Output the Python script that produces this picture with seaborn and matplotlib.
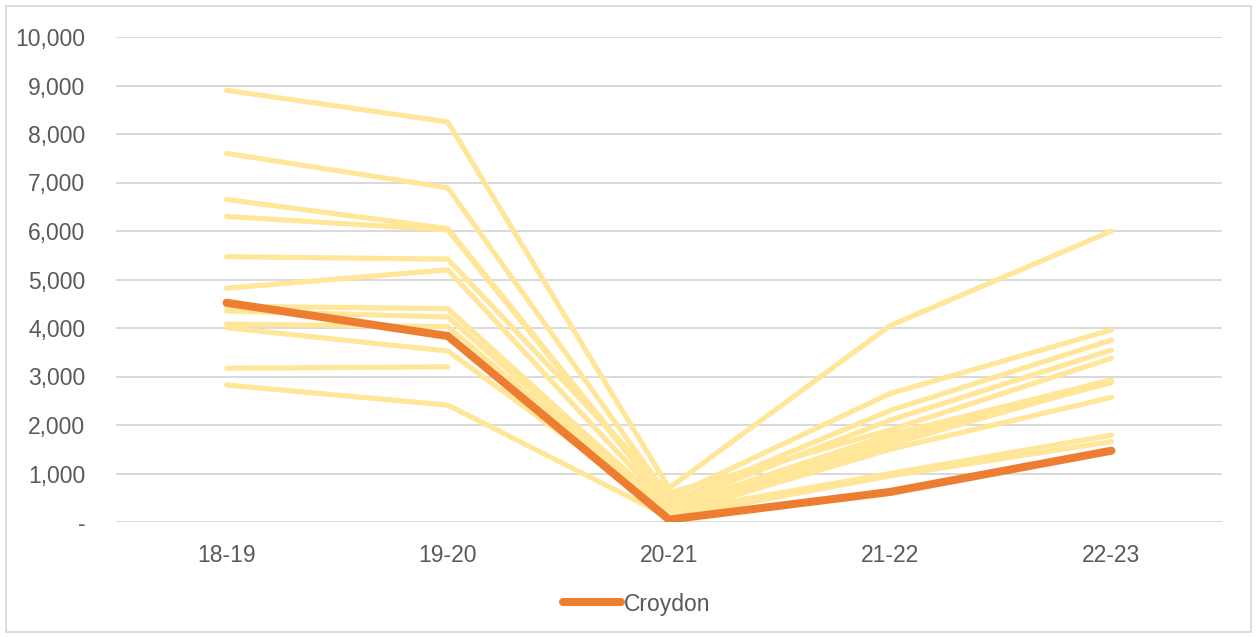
import numpy as np
import pandas as pd
import matplotlib
matplotlib.use("Agg")
import matplotlib.pyplot as plt
from matplotlib.lines import Line2D
from matplotlib.patches import Rectangle
from matplotlib.ticker import FuncFormatter
import seaborn as sns

# Financial years on the x axis
years = ["18-19", "19-20", "20-21", "21-22", "22-23"]

# Comparator boroughs (unnamed, drawn as background context)
comparators = [
    [8900, 8250, 700, 4050, 6000],
    [7600, 6890, 500, 2650, 3960],
    [6650, 6050, 400, 2300, 3750],
    [6300, 6020, 350, 2100, 3545],
    [5470, 5420, 600, 1900, 3375],
    [4820, 5200, 300, 1800, 2930],
    [4450, 4400, 250, 1700, 2870],
    [4350, 4230, 200, 1600, 2900],
    [4080, 4030, 150, 1500, 2570],
    [4005, 3525, 200, 1000, 1790],
    [3170, 3200, np.nan, np.nan, np.nan],
    [2825, 2410, 100, 950, 1655],
]

# Highlighted borough
croydon_label = "Croydon"
croydon = [4520, 3835, 50, 620, 1470]

yticks = list(range(0, 10001, 1000))

sns.set_theme(style="white")
plt.rcParams["font.family"] = ["Liberation Sans", "DejaVu Sans"]

fig = plt.figure(figsize=(12.57, 6.37), dpi=100)
ax = fig.add_axes([116 / 1257, 1 - 522 / 637, (1222 - 116) / 1257, (522 - 37) / 637])

xpos = np.arange(len(years))
for series in comparators:
    sns.lineplot(x=xpos, y=series, ax=ax, color="#FFE699", linewidth=3.7,
                 solid_capstyle="round", solid_joinstyle="round", zorder=2)
sns.lineplot(x=xpos, y=croydon, ax=ax, color="#ED7D31", linewidth=5.8,
             solid_capstyle="round", solid_joinstyle="round", zorder=3)

ax.set_xlim(-0.5, len(years) - 0.5)
ax.set_ylim(0, 10000)
ax.set_xticks(xpos)
ax.set_xticklabels(years)
ax.set_yticks(yticks)
ax.yaxis.set_major_formatter(FuncFormatter(lambda v, p: "-" if v == 0 else f"{int(v):,}"))
ax.grid(axis="y", color="#D9D9D9", linewidth=1.4, zorder=0)
ax.grid(axis="x", visible=False)
ax.set_axisbelow(True)
for side in ["left", "right", "top", "bottom"]:
    ax.spines[side].set_visible(False)
ax.tick_params(axis="both", length=0, labelsize=16.5, labelcolor="#595959")
ax.tick_params(axis="y", pad=22)
ax.tick_params(axis="x", pad=16)
ax.set_xlabel("")
ax.set_ylabel("")

handle = Line2D([], [], color="#ED7D31", linewidth=5.8, solid_capstyle="round")
fig.legend([handle], [croydon_label], loc="center", bbox_to_anchor=(637 / 1257, 1 - 604 / 637),
           frameon=False, fontsize=16.5, labelcolor="#595959",
           handlelength=2.5, handletextpad=0.15)

fig.patches.append(Rectangle((6 / 1257, 5 / 637), 1245 / 1257, 626 / 637,
                             transform=fig.transFigure, fill=False,
                             edgecolor="#D9D9D9", linewidth=1.3))

fig.savefig("out.png", dpi=100, facecolor="white")
